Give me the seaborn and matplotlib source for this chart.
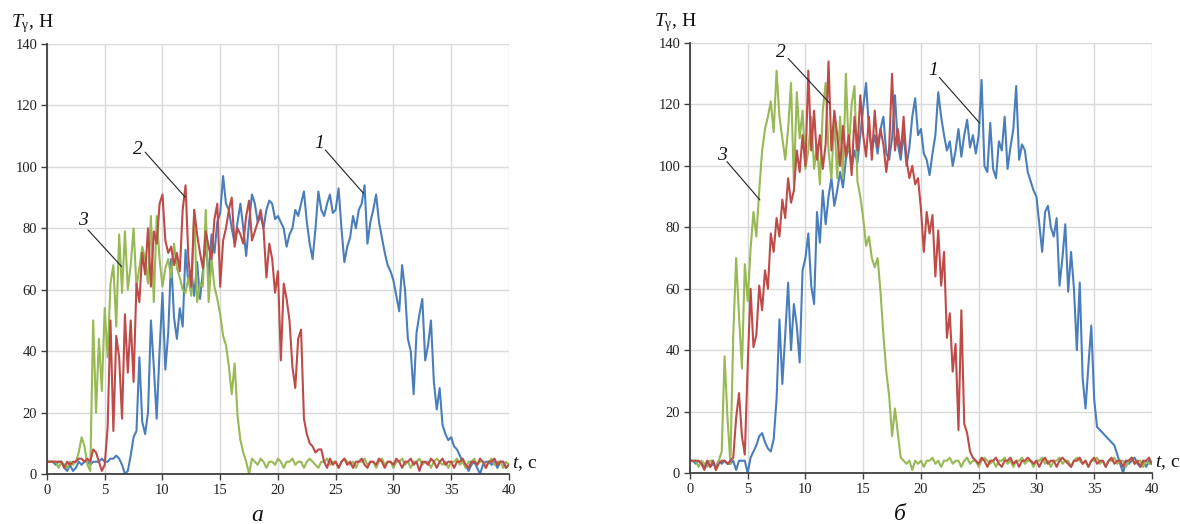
import numpy as np
import pandas as pd
import matplotlib
matplotlib.use("Agg")
import matplotlib.pyplot as plt
import seaborn as sns

# time grid (s), 0.25 s step, 0 .. 40
t = np.arange(161) * 0.25

# ---- panel "а" ----
a_blue = [4,4,4,3,4,4,2,1,3,1,2,4,3,4,4,3,4,4,4,5,
          4,4,5,5,6,5,3,0,1,6,12,14,38,17,13,20,50,35,18,40,
          59,34,46,70,51,44,54,48,73,62,66,58,69,57,66,75,64,78,72,82,
          85,97,88,86,80,75,82,88,80,71,82,91,88,82,84,80,86,89,88,83,
          84,82,80,74,78,80,86,84,88,92,82,75,70,80,92,86,84,88,91,85,
          86,93,80,69,74,77,84,80,86,88,94,75,82,86,91,82,77,72,68,66,
          63,58,53,68,60,44,40,26,46,52,57,37,42,50,30,21,28,16,13,11,
          12,9,8,6,4,3,1,3,4,2,0,3,4,4,3,4,2,4,4,2,
          3]
a_red = [4,4,4,4,4,4,2,4,3,4,4,5,5,4,5,4,8,7,4,1,
         3,15,50,14,45,38,18,52,33,50,30,62,56,72,65,80,61,79,75,88,
         91,76,72,74,68,72,66,86,94,70,61,86,78,72,67,79,74,70,83,88,
         61,76,80,86,90,74,80,78,75,84,89,76,79,82,86,80,64,75,70,59,
         66,37,62,57,50,35,28,44,47,18,13,10,9,7,8,8,4,2,5,3,
         4,2,4,5,3,4,2,4,4,5,3,2,4,4,3,5,4,2,4,4,
         3,5,4,2,4,4,5,3,4,1,4,4,3,5,4,2,4,5,3,4,
         4,2,4,4,5,3,2,4,4,3,5,4,2,4,4,5,3,4,4,2,
         3]
a_green = [4,4,4,4,2,4,3,2,4,3,4,7,12,9,3,1,50,20,44,27,
           54,38,62,68,48,78,59,79,60,68,80,61,67,74,70,62,84,56,84,70,
           61,67,70,64,75,67,64,60,59,64,58,86,56,62,61,86,56,70,61,57,
           52,45,42,35,26,36,19,11,7,4,0,5,4,3,5,4,2,4,4,3,
           5,4,2,4,4,5,3,4,4,2,4,5,4,3,2,4,4,5,3,4,
           4,2,4,5,4,3,4,2,4,4,5,3,4,4,2,4,5,3,4,4,
           2,4,4,5,3,4,2,4,4,5,3,4,4,2,4,5,4,3,4,2,
           4,4,5,3,4,2,4,4,5,3,4,4,2,4,5,3,4,4,2,4,
           3]

# ---- panel "б" ----
b_blue = [4,4,3,4,3,2,4,2,3,2,4,3,4,3,3,4,1,4,4,4,
          0,5,7,9,12,13,10,8,7,11,24,50,29,45,62,40,55,48,36,66,
          70,78,61,55,85,75,92,81,90,96,87,92,98,93,102,107,99,105,101,110,
          119,127,112,105,110,104,112,116,104,102,109,123,107,102,111,100,106,116,122,110,
          112,104,102,97,104,110,124,116,110,105,108,100,105,112,103,110,115,106,110,104,
          110,128,100,98,114,99,96,108,105,116,99,106,112,126,102,107,105,98,95,92,
          90,81,72,85,87,80,77,83,61,70,81,59,72,60,40,62,31,21,35,48,
          24,15,14,13,12,11,10,9,6,3,0,4,3,4,5,3,2,4,2,4,
          3]
b_red = [4,4,4,4,3,1,4,2,4,1,3,4,4,3,4,5,18,26,12,6,
         35,60,41,45,61,53,66,60,78,72,83,77,89,83,96,88,92,105,98,110,
         100,131,105,118,102,110,99,107,134,105,118,110,100,113,103,110,97,116,105,123,
         110,103,116,102,118,106,112,107,98,106,130,105,112,104,116,102,96,100,94,96,
         86,72,85,78,84,64,79,61,72,44,52,33,42,14,53,16,13,7,5,4,
         3,5,4,2,4,4,5,3,2,4,4,5,3,4,2,4,4,5,4,3,
         4,2,4,5,3,4,4,2,4,5,4,3,2,4,4,5,3,4,2,4,
         5,3,4,4,2,4,5,3,4,4,2,4,4,5,3,4,2,4,4,5,
         3]
b_green = [4,4,4,2,4,3,2,4,4,1,4,7,38,18,3,45,70,51,34,68,
           56,73,85,77,92,105,112,116,121,111,131,116,109,102,112,127,94,124,109,118,
           99,105,116,99,107,94,118,127,105,96,116,96,116,96,130,105,120,126,95,90,
           83,74,77,70,67,70,59,45,33,25,12,21,13,5,4,3,4,1,4,3,
           4,2,4,4,5,3,4,2,4,4,5,3,4,4,2,4,5,3,4,4,
           2,4,5,4,3,4,2,4,4,5,3,4,2,4,4,5,3,4,4,2,
           4,4,5,3,4,2,4,4,5,3,4,4,2,4,5,4,3,4,2,4,
           4,5,3,4,2,4,4,5,3,4,4,2,4,5,3,4,4,2,4,3,
           3]

x_ticks = [0, 5, 10, 15, 20, 25, 30, 35, 40]
y_ticks = [0, 20, 40, 60, 80, 100, 120, 140]
panel_letters = ["а", "б"]
curve_labels = ["1", "2", "3"]

BLUE = "#4a7ebb"
RED = "#be4b48"
GREEN = "#98b954"

sns.set_theme(style="white")
plt.rcParams["font.family"] = ["Liberation Serif", "DejaVu Serif"]
plt.rcParams["mathtext.fontset"] = "custom"
plt.rcParams["mathtext.rm"] = "Liberation Serif"
plt.rcParams["mathtext.it"] = "Liberation Serif:italic"

fig = plt.figure(figsize=(11.8, 5.24), dpi=100)
ax_a = fig.add_axes([0.0398, 0.0954, 0.3915, 0.8206])
ax_b = fig.add_axes([0.5847, 0.0973, 0.3915, 0.8206])

panels = [
    (ax_a, a_blue, a_red, a_green,
     # label text pos, line start, line end (data coords)
     {"1": ((23.6, 107.7), (24.1, 105.5), (27.4, 91.4)),
      "2": ((7.9, 105.5), (8.5, 104.8), (11.95, 90.2)),
      "3": ((3.1, 82.7), (3.55, 79.5), (6.47, 67.5))}),
    (ax_b, b_blue, b_red, b_green,
     {"1": ((21.1, 131.2), (21.6, 128.8), (25.1, 113.9)),
      "2": ((7.9, 137.0), (8.5, 135.0), (12.1, 120.4)),
      "3": ((2.74, 103.5), (3.2, 101.4), (6.06, 88.9))}),
]

for i, (ax, yb, yr, yg, ann) in enumerate(panels):
    df = pd.DataFrame({"t": t, "blue": yb, "green": yg, "red": yr})
    for col, c in (("blue", BLUE), ("green", GREEN), ("red", RED)):
        sns.lineplot(data=df, x="t", y=col, ax=ax, color=c, lw=1.5,
                     estimator=None, legend=False)
    ax.set_xlim(0, 40)
    ax.set_ylim(0, 140)
    ax.set_xticks(x_ticks)
    ax.set_yticks(y_ticks)
    ax.set_xlabel("")
    ax.set_ylabel("")
    ax.grid(True, color="#d9d9d9", lw=1.0)
    ax.set_axisbelow(True)
    for s in ("top", "right"):
        ax.spines[s].set_visible(False)
    for s in ("left", "bottom"):
        ax.spines[s].set_color("#404040")
        ax.spines[s].set_linewidth(1.3)
    ax.tick_params(axis="both", direction="out", length=4, width=1,
                   color="#404040", labelsize=10.5, pad=3, colors="#222222")
    ax.tick_params(axis="both", which="both", bottom=True, left=True)

    # axis titles
    ax.text(-0.078, 1.048, r"$T_{\mathrm{\gamma}}$, Н", transform=ax.transAxes,
            fontsize=14, ha="left", va="center", color="#111111")
    ax.text(1.006, 0.022, r"$t$, с", transform=ax.transAxes,
            fontsize=14, ha="left", va="center", color="#111111")
    # panel letter
    ax.text(0.455, -0.072, panel_letters[i], transform=ax.transAxes,
            fontsize=17, style="italic", ha="center", va="top", color="#111111")
    # curve annotations
    for lab in curve_labels:
        (tx, ty), (x0, y0), (x1, y1) = ann[lab]
        ax.plot([x0, x1], [y0, y1], color="#222222", lw=0.8, zorder=5)
        ax.text(tx, ty, lab, fontsize=14, style="italic", ha="center",
                va="center", color="#111111", zorder=6)

fig.savefig("out.png", dpi=100, facecolor="white")
